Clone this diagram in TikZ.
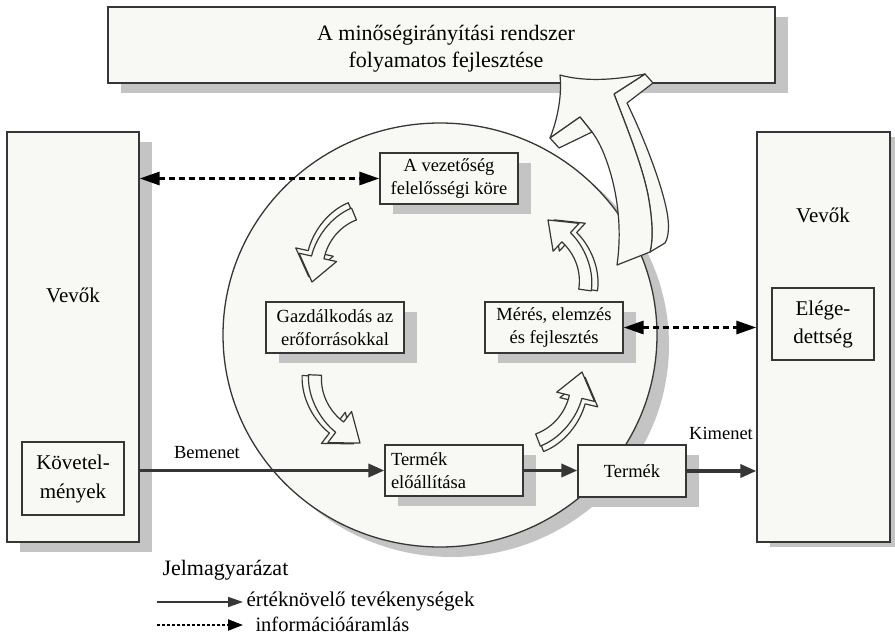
\documentclass[tikz,border=0pt]{standalone}
\usepackage{fontspec}
\setmainfont{Liberation Serif}
\usetikzlibrary{
  arrows.meta,
  calc,
  shadows,
}
\definecolor{ink}{HTML}{363636}
\definecolor{paper}{HTML}{F8F9F5}
\definecolor{shade}{HTML}{C4C4C4}
\tikzset{
  box/.style={draw=ink, fill=paper, line width=1.3pt, align=center, inner sep=0pt},
  shadowed/.style={drop shadow={shadow xshift=13pt, shadow yshift=-10pt, fill=shade, opacity=1}},
  flow/.style={draw=ink, line width=3.5pt, -{Triangle[length=16pt,width=13pt]}},
  info/.style={draw=black, line width=3pt, dash pattern=on 6.5pt off 3.5pt,
    {Triangle[length=20pt,width=13pt]}-{Triangle[length=20pt,width=13pt]}},
  ribbon/.style={draw=ink, fill=paper, line width=1.2pt, line join=round},
  big/.style={font=\fontsize{21}{28}\selectfont},
  mid/.style={font=\fontsize{18.5}{23}\selectfont},
}
% curved 3D arrow: tail point, vector to the tip, outward vector (both in pt, y up)
\newcommand{\swirl}[3]{%
  \begin{scope}[shift={#1}, x={#2}, y={#3}]
    \filldraw[ribbon, shift={(-0.035,0.07)}] (0.047,-0.065) -- (-0.047,0.065)
      .. controls (0.18,0.23) and (0.5,0.25) .. (0.726,0.176) -- (0.779,0.327)
      -- (1,0) -- (0.621,-0.127) -- (0.674,0.025)
      .. controls (0.5,0.09) and (0.25,0.09) .. (0.047,-0.065) -- cycle;
    \filldraw[ribbon] (0.047,-0.065) -- (-0.047,0.065)
      .. controls (0.18,0.23) and (0.5,0.25) .. (0.726,0.176) -- (0.779,0.327)
      -- (1,0) -- (0.621,-0.127) -- (0.674,0.025)
      .. controls (0.5,0.09) and (0.25,0.09) .. (0.047,-0.065) -- cycle;
  \end{scope}}

\begin{document}
\begin{tikzpicture}[x=1pt, y=-1pt]
  \useasboundingbox (0,0) rectangle (895,643);

  % frame
  \node[box, shadowed, minimum width=667pt, minimum height=76pt] (impr) at (441.5,45) {};
  \node[font=\fontsize{22}{27}\selectfont, align=center] (imprtxt) at (446,49)
    {A minőségirányítási rendszer\\folyamatos fejlesztése};
  \node[box, shadowed, minimum width=132pt, minimum height=410pt] (custL) at (73,337) {};
  \node[box, minimum width=133pt, minimum height=410pt,
    drop shadow={shadow xshift=13pt, shadow yshift=-5pt, fill=shade, opacity=1}] (custR) at (823.5,337) {};
  \node[big] (custLtxt) at (73,295) {Vevők};
  \node[big] (custRtxt) at (823,215) {Vevők};
  \node[box, font=\fontsize{21}{29}\selectfont, minimum width=102pt, minimum height=73pt] (req) at (73,478.5)
    {Követel-\\mények};
  \node[box, font=\fontsize{21}{28}\selectfont, minimum width=102pt, minimum height=72pt] (sat) at (823,324)
    {Elége-\\dettség};

  % circle
  \coordinate (cc) at (440,335);
  \filldraw[draw=ink, fill=paper, line width=1.3pt,
    drop shadow={shadow xshift=12pt, shadow yshift=-10pt, fill=shade, opacity=1}]
    (cc) ellipse [x radius=217pt, y radius=212pt];

  % big arrow
  \filldraw[ribbon] (645,74) -- (653,83) -- (627,103) .. controls (645,140) and (662,185) .. (667,212)
    .. controls (670,228) and (668,238) .. (665,243) -- (650,252)
    .. controls (653,240) and (653,222) .. (648,195) .. controls (642,165) and (627,128) .. (614,94) -- cycle;
  \filldraw[ribbon] (560,75) .. controls (585,82) and (615,80) .. (645,74) -- (614,94)
    .. controls (627,128) and (642,165) .. (648,195) .. controls (653,222) and (653,240) .. (650,252)
    -- (617,265) .. controls (622,230) and (618,195) .. (608,165) .. controls (603,150) and (598,140) .. (592,132)
    -- (580,117) -- (550,138) .. controls (558,118) and (562,95) .. (560,75) -- cycle;
  \filldraw[ribbon] (550,138) -- (559,148) -- (592,132) -- (580,117) -- cycle;

  % processes
  \node[box, shadowed, mid, minimum width=138pt, minimum height=51pt] (lead) at (449,178.5)
    {A vezetőség\\felelősségi köre};
  \node[box, shadowed, mid, minimum width=138pt, minimum height=51pt] (res) at (335,327.5)
    {Gazdálkodás az\\erőforrásokkal};
  \node[box, shadowed, mid, minimum width=138pt, minimum height=51pt] (meas) at (554,327.5)
    {Mérés, elemzés\\és fejlesztés};
  \node[box, shadowed, mid, minimum width=138pt, minimum height=51pt, text width=126pt, align=left] (prod) at (454,470.5)
    {Termék\\előállítása};
  \node[box, shadowed, mid, minimum width=108pt, minimum height=52pt] (prodout) at (632,471) {Termék};

  \swirl{(354,214)}{(-42pt,-68pt)}{(-68pt,42pt)}
  \swirl{(315,375)}{(45pt,-68pt)}{(-68pt,-45pt)}
  \swirl{(538,440)}{(44pt,68pt)}{(68pt,-44pt)}
  \swirl{(585,290)}{(-37pt,70pt)}{(70pt,37pt)}

  % connectors
  \draw[info] (custL.east |- lead.west) -- (lead.west);
  \draw[info] (meas.east) -- (meas.east -| custR.west);
  \draw[flow] (custL.east |- prod.west) -- (prod.west);
  \draw[flow] (prod.east) -- (prod.east -| prodout.west);
  \draw[flow] (prodout.east) -- (prodout.east -| custR.west);
  \node[mid] (inlbl) at (207,453) {Bemenet};
  \node[mid] (outlbl) at (721,433) {Kimenet};

  % legend
  \node[anchor=west, font=\fontsize{22}{25}\selectfont] (legend) at (159,570) {Jelmagyarázat};
  \node[anchor=west, font=\fontsize{21}{23}\selectfont] (lgval) at (243,601) {értéknövelő tevékenységek};
  \node[anchor=west, font=\fontsize{20.5}{23}\selectfont] (lginfo) at (252,624) {információáramlás};
  \coordinate (lgvalst) at (157,602);
  \coordinate (lginfost) at (157,625);
  \draw[draw=ink, line width=1.5pt, -{Triangle[length=15pt,width=10pt]}] (lgvalst) -- (lgvalst -| lgval.west);
  \draw[draw=black, line width=2.2pt, dash pattern=on 3pt off 2pt, shorten >=9pt,
    -{Triangle[length=15pt,width=11pt]}] (lginfost) -- (lginfost -| lginfo.west);
\end{tikzpicture}
\end{document}
